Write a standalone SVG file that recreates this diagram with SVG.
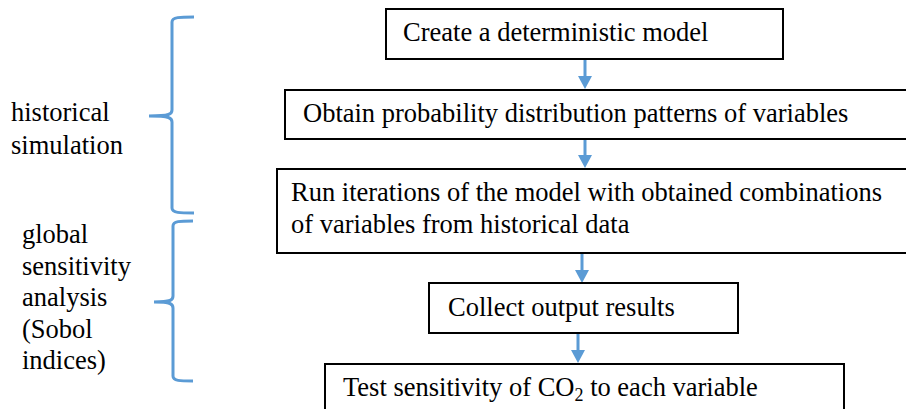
<svg xmlns="http://www.w3.org/2000/svg" width="906" height="409" viewBox="0 0 906 409">
<defs>
<style>
.box{fill:#fff;stroke:#000;stroke-width:2}
.t{font-family:"Liberation Serif","Times New Roman",serif;font-size:26.5px;fill:#000}
.br{fill:none;stroke:#5b9bd5;stroke-width:3}
.ln{stroke:#5b9bd5;stroke-width:3}
.hd{fill:#5b9bd5}
</style>
</defs>
<rect width="906" height="409" fill="#fff"/>
<g id="connectors">
<line class="ln" x1="585" y1="60" x2="585" y2="78"/><polygon class="hd" points="578,76 592,76 585,89"/>
<line class="ln" x1="585" y1="139" x2="585" y2="157"/><polygon class="hd" points="578,155 592,155 585,168"/>
<line class="ln" x1="582" y1="253" x2="582" y2="272"/><polygon class="hd" points="575,270 589,270 582,283"/>
<line class="ln" x1="578" y1="333" x2="578" y2="352"/><polygon class="hd" points="571,350 585,350 578,363"/>
</g>
<g id="brace1"><path class="br" d="M194,17 C180,17 172,17 172,22 L172,110 C172,114 170,116 149,116 C170,116 172,118 172,122 L172,208 C172,213 180,213 194,213"/></g>
<g id="brace2"><path class="br" d="M193,221 C180,221 173,221 173,226 L173,296 C173,300 171,302 154,302 C171,302 173,304 173,308 L173,376 C173,381 180,381 193,381"/></g>
<g id="label1"><text class="t" x="11" y="121">historical</text><text class="t" x="11" y="154">simulation</text></g>
<g id="label2"><text class="t" x="22" y="243">global</text><text class="t" x="22" y="275">sensitivity</text><text class="t" x="22" y="306">analysis</text><text class="t" x="22" y="338">(Sobol</text><text class="t" x="22" y="369">indices)</text></g>
<g id="n1"><rect class="box" x="386" y="9" width="397" height="50"/><text class="t" x="403" y="41">Create a deterministic model</text></g>
<g id="n2"><rect class="box" x="285" y="90" width="630" height="49"/><text class="t" x="303" y="122">Obtain probability distribution patterns of variables</text></g>
<g id="n3"><rect class="box" x="277" y="169" width="640" height="84"/><text class="t" x="291" y="201">Run iterations of the model with obtained combinations</text><text class="t" x="291" y="233">of variables from historical data</text></g>
<g id="n4"><rect class="box" x="429" y="283" width="309" height="50"/><text class="t" x="448" y="316">Collect output results</text></g>
<g id="n5"><rect class="box" x="325" y="364" width="519" height="60"/><text class="t" x="343" y="396">Test sensitivity of CO<tspan font-size="18" dy="5">2</tspan><tspan dy="-5"> to each variable</tspan></text></g>
</svg>
